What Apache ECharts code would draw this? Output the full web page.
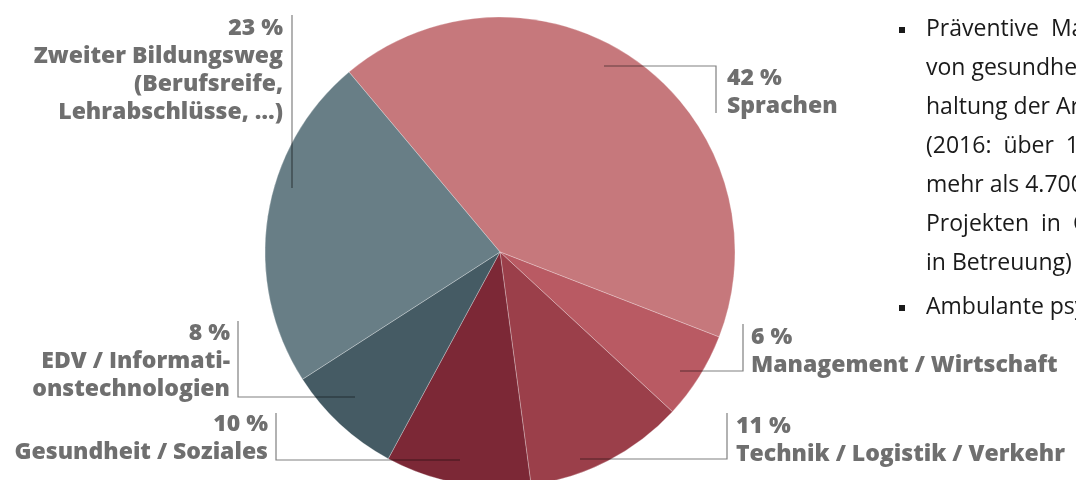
<!DOCTYPE html>
<html>
<head>
<meta charset="utf-8">
<script src="https://cdn.jsdelivr.net/npm/echarts@6/dist/echarts.min.js"></script>
<style>
  html, body { margin: 0; padding: 0; background: #fff; }
  #main { width: 1076px; height: 480px; }
</style>
</head>
<body>
<div id="main"></div>
<script>
// Kategorien und Anteile (in %)
const categories = [
    'Sprachen',
    'Management / Wirtschaft',
    'Technik / Logistik / Verkehr',
    'Gesundheit / Soziales',
    'EDV / Informati-\nonstechnologien',
    'Zweiter Bildungsweg\n(Berufsreife,\nLehrabschlüsse, …)'
];
const shares = [42, 6, 11, 10, 8, 23];
const sliceColors = ['#c6787c', '#b95a63', '#9b3f4a', '#7c2836', '#455b64', '#687e86'];

// Fließtext rechts (abgeschnitten wie im Original)
const sideText = [
    'Präventive  Ma',
    'von gesundhe',
    'haltung der Ar',
    '(2016:  über  10',
    'mehr als 4.700',
    'Projekten  in  C',
    'in Betreuung)',
    'Ambulante psy'
];

// Label-Positionen mit Knicklinien
const labelPos = [
    { x: 727, y: 64, align: 'left', line: [[604, 66], [716, 66], [716, 113]] },
    { x: 751, y: 323, align: 'left', line: [[680, 371], [743, 371], [743, 324]] },
    { x: 736, y: 412, align: 'left', line: [[580, 459], [727, 459], [727, 413]] },
    { x: 268, y: 410, align: 'right', line: [[460, 460], [276, 460], [276, 413]] },
    { x: 230, y: 319, align: 'right', line: [[355, 397], [238, 397], [238, 321]] },
    { x: 283, y: 14, align: 'right', line: [[292, 188], [292, 15], [292, 15]] }
];

const chart = echarts.init(document.getElementById('main'));

// Zeilenmitte der Fließtextzeilen
const lineMid = i => (i < 7 ? 29 + i * 39 : 307);
const textEls = sideText.map((t, i) => ({
    type: 'text',
    left: 926,
    top: lineMid(i) - 11.5,
    style: { text: t, fill: '#1a1a1a', font: '23px "Open Sans"' }
}));
// Aufzählungszeichen
[0, 7].forEach(i => {
    textEls.push({
        type: 'rect',
        shape: { x: 899, y: lineMid(i) - 2, width: 6, height: 6 },
        style: { fill: '#1a1a1a' }
    });
});

const pieData = categories.map((c, i) => ({ name: c, value: shares[i] }));

chart.setOption({
    animation: false,
    color: sliceColors,
    graphic: textEls,
    series: [{
        type: 'pie',
        z: 2,
        center: [500, 252],
        radius: 235,
        startAngle: 130,
        clockwise: true,
        itemStyle: { borderColor: 'rgba(255,255,255,0.45)', borderWidth: 0.6 },
        label: { show: false },
        labelLine: { show: false },
        emphasis: { disabled: true },
        data: pieData
    }, {
        // gleiche Daten, nur Beschriftung + Linien über den Segmenten
        type: 'pie',
        z: 5,
        silent: true,
        center: [500, 252],
        radius: 235,
        startAngle: 130,
        clockwise: true,
        avoidLabelOverlap: false,
        itemStyle: { color: 'rgba(0,0,0,0)', borderWidth: 0 },
        label: {
            show: true,
            position: 'outside',
            formatter: '{c} %\n{b}',
            color: '#6f6f6f',
            fontFamily: 'Open Sans',
            fontWeight: 800,
            fontSize: 23,
            lineHeight: 28
        },
        labelLine: {
            show: true,
            lineStyle: { color: 'rgba(0,0,0,0.5)', width: 1.2 }
        },
        labelLayout: function (params) {
            const p = labelPos[params.dataIndex];
            return {
                x: p.x,
                y: p.y,
                align: p.align,
                verticalAlign: 'top',
                labelLinePoints: p.line
            };
        },
        emphasis: { disabled: true },
        data: pieData
    }]
});
</script>
</body>
</html>
